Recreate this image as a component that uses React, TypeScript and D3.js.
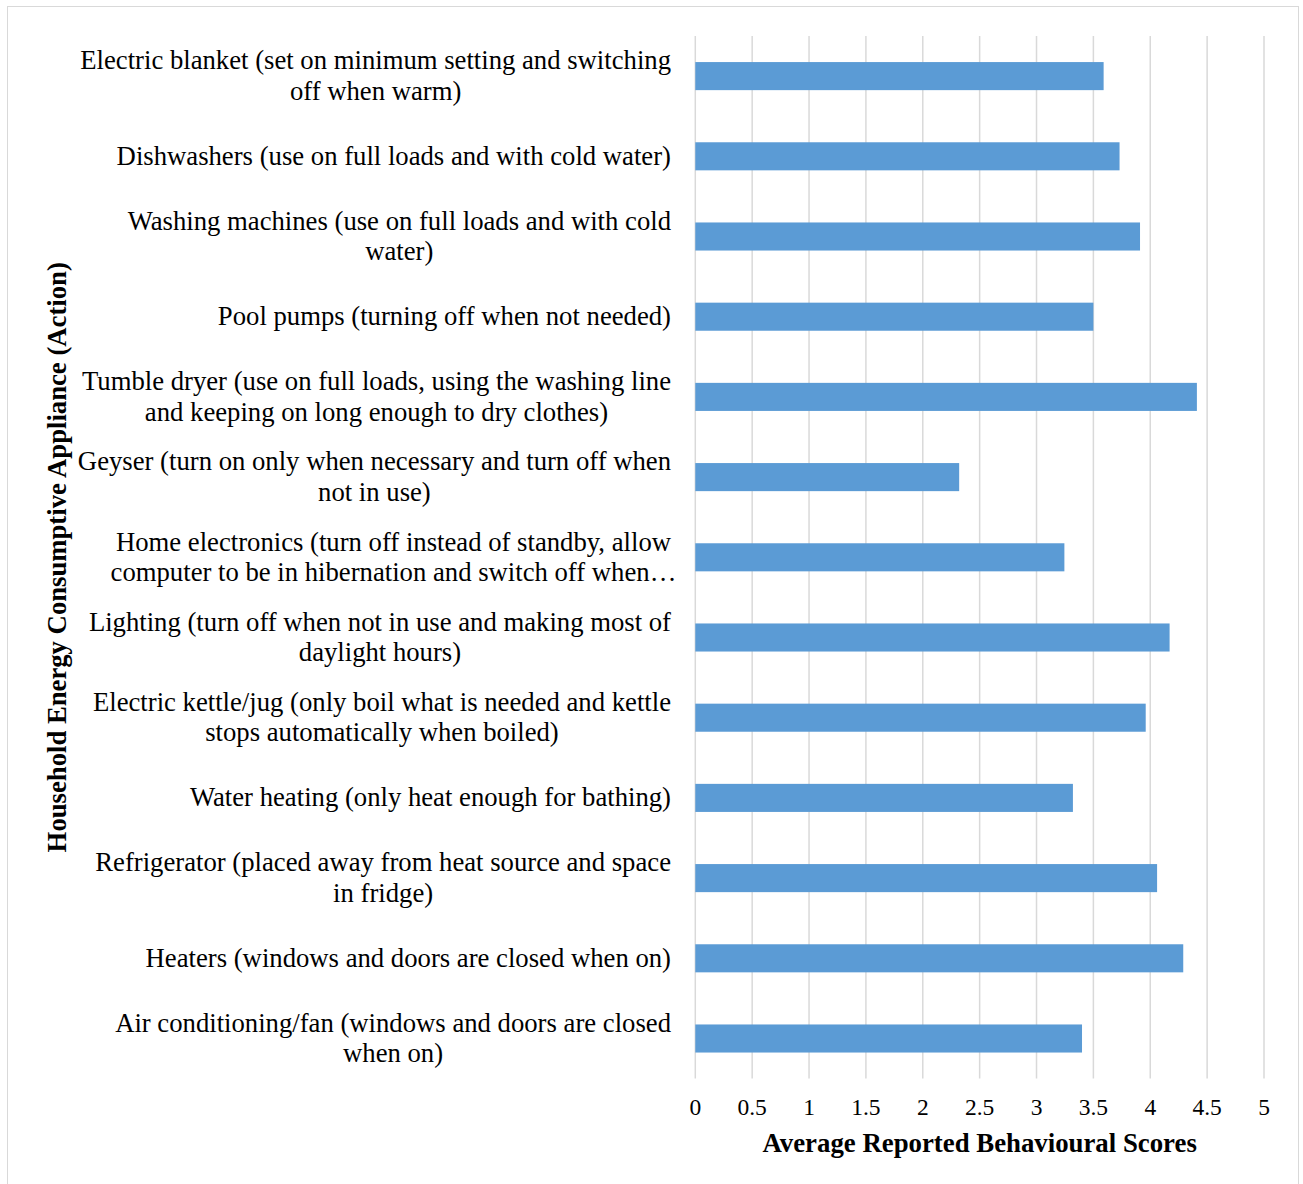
import React, { useEffect, useRef } from "react";
import * as d3 from "d3";

const categories: string[][] = [
  ["Electric blanket (set on minimum setting and switching", "off when warm)"],
  ["Dishwashers (use on full loads and with cold water)"],
  ["Washing machines (use on full loads and with cold", "water)"],
  ["Pool pumps (turning off when not needed)"],
  ["Tumble dryer (use on full loads, using the washing line", "and keeping on long enough to dry clothes)"],
  ["Geyser (turn on only when necessary and turn off when", "not in use)"],
  ["Home electronics (turn off instead of standby, allow", "computer to be in hibernation and switch off when…"],
  ["Lighting (turn off when not in use and making most of", "daylight hours)"],
  ["Electric kettle/jug (only boil what is needed and kettle", "stops automatically when boiled)"],
  ["Water heating (only heat enough for bathing)"],
  ["Refrigerator (placed away from heat source and space", "in fridge)"],
  ["Heaters (windows and doors are closed when on)"],
  ["Air conditioning/fan (windows and doors are closed", "when on)"],
];
const scores: number[] = [3.59, 3.73, 3.91, 3.5, 4.41, 2.32, 3.245, 4.17, 3.96, 3.32, 4.06, 4.29, 3.4];
const ticks: number[] = [0, 0.5, 1, 1.5, 2, 2.5, 3, 3.5, 4, 4.5, 5];
const xTitle = "Average Reported Behavioural Scores";
const yTitle = "Household Energy Consumptive Appliance (Action)";

const W = 1303;
const H = 1184;
const FONT = "'Liberation Serif', 'Times New Roman', serif";

export default function App() {
  const ref = useRef<SVGSVGElement>(null);
  useEffect(() => {
    const svg = d3.select(ref.current);
    svg.selectAll("*").remove();
    const left = 695.3;
    const right = 1264;
    const top = 36;
    const bottom = 1078.6;
    const x = d3.scaleLinear().domain([0, 5]).range([left, right]);
    const y = d3
      .scaleBand<number>()
      .domain(d3.range(categories.length))
      .range([top, bottom])
      .paddingInner(0.65)
      .paddingOuter(0.325);

    svg.append("rect").attr("x", 0).attr("y", 0).attr("width", W).attr("height", H).attr("fill", "#fff");
    svg
      .append("rect")
      .attr("x", 7.5)
      .attr("y", 6.5)
      .attr("width", 1291)
      .attr("height", 1200)
      .attr("fill", "none")
      .attr("stroke", "#d9d9d9")
      .attr("stroke-width", 1);

    // gridlines
    svg
      .append("g")
      .selectAll("line")
      .data(ticks)
      .join("line")
      .attr("x1", (d) => x(d))
      .attr("x2", (d) => x(d))
      .attr("y1", top)
      .attr("y2", bottom)
      .attr("stroke", "#d9d9d9")
      .attr("stroke-width", 1.5);

    // bars
    svg
      .append("g")
      .selectAll("rect")
      .data(scores)
      .join("rect")
      .attr("x", x(0))
      .attr("y", (_, i) => y(i)!)
      .attr("width", (d) => x(d) - x(0))
      .attr("height", y.bandwidth())
      .attr("fill", "#5b9bd5");

    // tick labels
    svg
      .append("g")
      .selectAll("text")
      .data(ticks)
      .join("text")
      .attr("x", (d) => x(d))
      .attr("y", 1115)
      .attr("text-anchor", "middle")
      .attr("font-family", FONT)
      .attr("font-size", 23.5)
      .attr("fill", "#000")
      .text((d) => String(d));

    // category labels
    const labelRight = 671;
    const lineH = 30.5;
    categories.forEach((lines, i) => {
      const cy = y(i)! + y.bandwidth() / 2;
      const g = svg.append("g");
      const t = g
        .append("text")
        .attr("font-family", FONT)
        .attr("font-size", 26.7)
        .attr("fill", "#000")
        .attr("text-anchor", "middle");
      const startY = cy - ((lines.length - 1) * lineH) / 2 + 8.5;
      const spans = lines.map((ln, k) =>
        t
          .append("tspan")
          .attr("y", startY + k * lineH)
          .text(ln)
      );
      const w0 = (spans[0].node() as SVGTSpanElement).getComputedTextLength();
      const cx = labelRight - w0 / 2;
      spans.forEach((s) => s.attr("x", cx));
    });

    // axis titles
    svg
      .append("text")
      .attr("x", (left + right) / 2)
      .attr("y", 1152)
      .attr("text-anchor", "middle")
      .attr("font-family", FONT)
      .attr("font-size", 26.8)
      .attr("font-weight", "bold")
      .attr("fill", "#000")
      .text(xTitle);
    svg
      .append("text")
      .attr("transform", `translate(66,${(top + bottom) / 2}) rotate(-90)`)
      .attr("text-anchor", "middle")
      .attr("font-family", FONT)
      .attr("font-size", 26.7)
      .attr("font-weight", "bold")
      .attr("fill", "#000")
      .text(yTitle);
  }, []);
  return (
    <svg
      ref={ref}
      width={W}
      height={H}
      style={{ position: "absolute", left: 0, top: 0, display: "block" }}
    />
  );
}
